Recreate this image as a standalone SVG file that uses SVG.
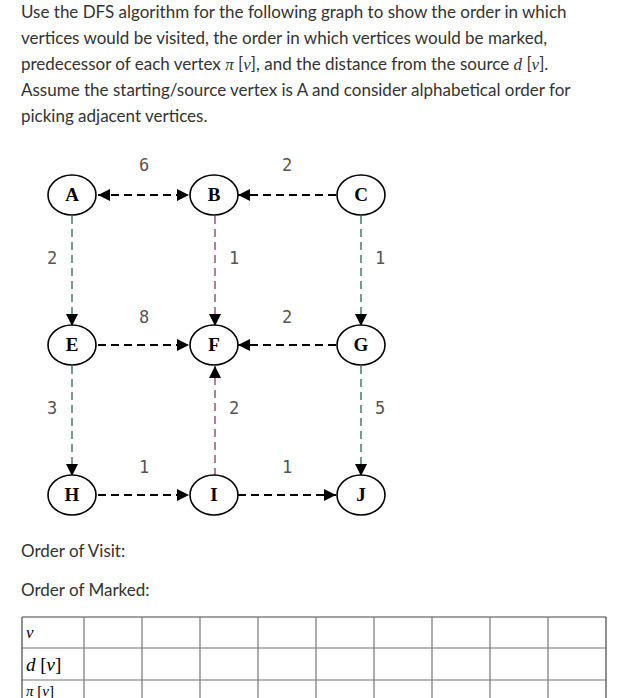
<svg xmlns="http://www.w3.org/2000/svg" width="623" height="698" viewBox="0 0 623 698">
<style>
.q{font-family:Lato,"Liberation Sans",sans-serif;font-size:17px;fill:#333}
.m{font-family:"Liberation Serif",serif;font-style:italic}
.n ellipse{fill:#fff;stroke:#000;stroke-width:1.6}
.lb{font-family:"Liberation Serif",serif;font-weight:bold;font-size:19px;text-anchor:middle;fill:#000}
.e{fill:none;stroke-width:1.8;stroke-dasharray:8,5}
.k{stroke:#000}.g{stroke:#6a9080}.p{stroke:#a8709a}
.w{font-family:"DejaVu Sans Mono","Liberation Mono",monospace;font-size:17px;fill:#555;text-anchor:middle}
.t line{stroke:#777;stroke-width:1.2}
</style>
<defs>
<marker id="a" viewBox="0 0 10 10" refX="10" refY="5" markerWidth="12" markerHeight="12" orient="auto-start-reverse" markerUnits="userSpaceOnUse"><path d="M0,0L10,5L0,10z"/></marker></defs>
<rect width="623" height="698" fill="#fff"/>
<text class="q" x="21" y="18">Use the DFS algorithm for the following graph to show the order in which</text>
<text class="q" x="21" y="44">vertices would be visited, the order in which vertices would be marked,</text>
<text class="q" x="21" y="70">predecessor of each vertex <tspan class="m">π</tspan> [<tspan class="m">v</tspan>], and the distance from the source <tspan class="m">d</tspan> [<tspan class="m">v</tspan>].</text>
<text class="q" x="21" y="96">Assume the starting/source vertex is A and consider alphabetical order for</text>
<text class="q" x="21" y="122">picking adjacent vertices.</text>
<g id="connectors">
<line class="e k" x1="98" y1="195" x2="189" y2="195" marker-start="url(#a)" marker-end="url(#a)"/>
<line class="e k" x1="336" y1="195" x2="238" y2="195" marker-end="url(#a)"/>
<line class="e k" x1="98" y1="345" x2="189" y2="345" marker-end="url(#a)"/>
<line class="e k" x1="336" y1="345" x2="238" y2="345" marker-end="url(#a)"/>
<line class="e k" x1="98" y1="495" x2="189" y2="495" marker-end="url(#a)"/>
<line class="e k" x1="238" y1="495" x2="336" y2="495" marker-end="url(#a)"/>
<line class="e g" x1="72" y1="216" x2="72" y2="326" marker-end="url(#a)"/>
<line class="e g" x1="72" y1="366" x2="72" y2="476" marker-end="url(#a)"/>
<line class="e g" x1="361" y1="216" x2="361" y2="326" marker-end="url(#a)"/>
<line class="e g" x1="361" y1="366" x2="361" y2="476" marker-end="url(#a)"/>
<line class="e p" x1="215" y1="216" x2="215" y2="326" marker-end="url(#a)"/>
<line class="e p" x1="215" y1="476" x2="215" y2="366" marker-end="url(#a)"/>
<text class="w" x="144" y="171">6</text><text class="w" x="287" y="171">2</text>
<text class="w" x="52" y="264">2</text><text class="w" x="234" y="264">1</text><text class="w" x="380" y="264">1</text>
<text class="w" x="144" y="323">8</text><text class="w" x="287" y="323">2</text>
<text class="w" x="52" y="414">3</text><text class="w" x="234" y="414">2</text><text class="w" x="380" y="414">5</text>
<text class="w" x="144" y="473">1</text><text class="w" x="287" y="473">1</text>
</g>
<g id="A" class="n"><ellipse cx="72" cy="195" rx="24" ry="20"/><text class="lb" x="72" y="201">A</text></g>
<g id="B" class="n"><ellipse cx="214" cy="195" rx="24" ry="20"/><text class="lb" x="214" y="201">B</text></g>
<g id="C" class="n"><ellipse cx="361" cy="195" rx="24" ry="20"/><text class="lb" x="361" y="201">C</text></g>
<g id="E" class="n"><ellipse cx="72" cy="345" rx="24" ry="20"/><text class="lb" x="72" y="351">E</text></g>
<g id="F" class="n"><ellipse cx="214" cy="345" rx="24" ry="20"/><text class="lb" x="214" y="351">F</text></g>
<g id="G" class="n"><ellipse cx="361" cy="345" rx="24" ry="20"/><text class="lb" x="361" y="351">G</text></g>
<g id="H" class="n"><ellipse cx="72" cy="495" rx="24" ry="20"/><text class="lb" x="72" y="501">H</text></g>
<g id="I" class="n"><ellipse cx="214" cy="495" rx="24" ry="20"/><text class="lb" x="214" y="501">I</text></g>
<g id="J" class="n"><ellipse cx="361" cy="495" rx="24" ry="20"/><text class="lb" x="361" y="501">J</text></g>
<text class="q" x="21" y="557">Order of Visit:</text>
<text class="q" x="21" y="596">Order of Marked:</text>
<g class="t">
<line x1="22" y1="617" x2="606" y2="617" style="stroke:#444"/>
<line x1="22" y1="648" x2="606" y2="648"/>
<line x1="22" y1="680" x2="606" y2="680"/>
<line x1="22" y1="617" x2="22" y2="698" style="stroke:#444"/>
<line x1="84" y1="617" x2="84" y2="698"/><line x1="142" y1="617" x2="142" y2="698"/>
<line x1="200" y1="617" x2="200" y2="698"/><line x1="258" y1="617" x2="258" y2="698"/>
<line x1="316" y1="617" x2="316" y2="698"/><line x1="374" y1="617" x2="374" y2="698"/>
<line x1="432" y1="617" x2="432" y2="698"/><line x1="490" y1="617" x2="490" y2="698"/>
<line x1="548" y1="617" x2="548" y2="698"/><line x1="606" y1="617" x2="606" y2="698" style="stroke:#444"/>
</g>
<text x="26" y="638" font-family="Liberation Serif,serif" font-style="italic" font-size="17">v</text>
<text x="26" y="671" font-family="Liberation Serif,serif" font-size="19"><tspan font-style="italic">d</tspan> [<tspan font-style="italic">v</tspan>]</text>
<text x="26" y="696" font-family="Liberation Serif,serif" font-size="15"><tspan font-style="italic">π</tspan> [<tspan font-style="italic">v</tspan>]</text>
</svg>
